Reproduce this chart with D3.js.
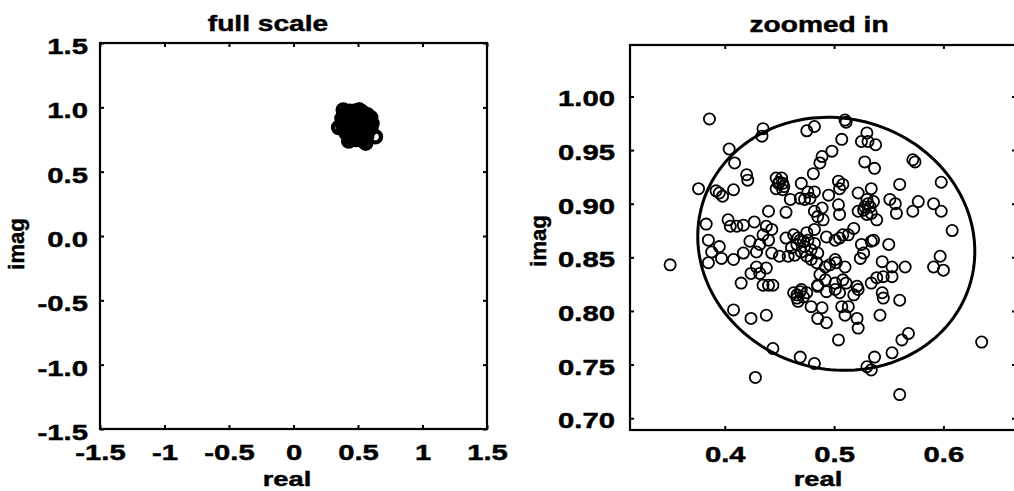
<!DOCTYPE html>
<html>
<head>
<meta charset="utf-8">
<script src="https://cdn.jsdelivr.net/npm/d3@7"></script>
<style>
  body { margin: 0; background: #fff; }
  svg text { font-family: "Liberation Sans", Arial, Helvetica, sans-serif; font-weight: bold; fill: #000; stroke: #000; stroke-width: 0.45px; }
</style>
</head>
<body>
<div id="chart"></div>
<script>
// values
const realPart = [
  0.386,0.350,0.635,0.428,0.560,0.510,0.511,0.435,0.434,0.475,
  0.482,0.507,0.530,0.525,0.531,0.538,0.404,0.498,0.489,0.487,
  0.409,0.528,0.537,0.572,0.574,0.420,0.421,0.447,0.452,0.449,
  0.453,0.447,0.453,0.481,0.598,0.376,0.392,0.395,0.398,0.408,
  0.470,0.476,0.482,0.478,0.504,0.508,0.505,0.460,0.469,0.473,
  0.495,0.522,0.534,0.530,0.536,0.533,0.551,0.556,0.557,0.560,
  0.577,0.572,0.591,0.598,0.456,0.482,0.489,0.485,0.490,0.504,
  0.505,0.522,0.527,0.530,0.534,0.539,0.440,0.383,0.403,0.405,
  0.411,0.417,0.427,0.438,0.443,0.435,0.518,0.513,0.608,0.385,
  0.395,0.388,0.423,0.432,0.440,0.456,0.463,0.467,0.472,0.466,
  0.461,0.476,0.482,0.479,0.485,0.493,0.501,0.505,0.508,0.525,
  0.534,0.536,0.550,0.397,0.408,0.417,0.429,0.443,0.450,0.458,
  0.464,0.470,0.475,0.479,0.484,0.492,0.496,0.501,0.502,0.510,
  0.524,0.527,0.544,0.553,0.565,0.591,0.597,0.600,0.385,0.429,
  0.438,0.432,0.424,0.435,0.440,0.444,0.415,0.487,0.492,0.485,
  0.501,0.508,0.511,0.521,0.534,0.539,0.545,0.553,0.463,0.466,
  0.470,0.467,0.472,0.475,0.485,0.493,0.501,0.505,0.518,0.522,
  0.544,0.545,0.560,0.479,0.489,0.507,0.513,0.510,0.542,0.408,
  0.424,0.438,0.485,0.493,0.521,0.522,0.504,0.562,0.568,0.444,
  0.537,0.553,0.469,0.482,0.530,0.534,
  0.450,0.454,0.466,0.469,0.531,0.528,0.469,0.473,0.475,0.482
]
const imagPart = [
  0.979,0.843,0.771,0.738,0.722,0.978,0.976,0.970,0.963,0.968,
  0.972,0.960,0.966,0.958,0.958,0.955,0.951,0.949,0.944,0.938,
  0.938,0.939,0.933,0.941,0.939,0.927,0.922,0.924,0.924,0.919,
  0.919,0.914,0.913,0.928,0.920,0.914,0.912,0.910,0.907,0.913,
  0.919,0.911,0.911,0.905,0.921,0.918,0.914,0.904,0.905,0.904,
  0.908,0.910,0.914,0.904,0.902,0.897,0.904,0.900,0.891,0.918,
  0.902,0.893,0.900,0.893,0.892,0.893,0.896,0.888,0.885,0.899,
  0.890,0.893,0.894,0.890,0.891,0.885,0.893,0.881,0.885,0.879,
  0.879,0.880,0.883,0.879,0.876,0.871,0.877,0.871,0.875,0.866,
  0.860,0.855,0.865,0.862,0.866,0.868,0.871,0.868,0.865,0.862,
  0.859,0.866,0.863,0.857,0.854,0.869,0.866,0.868,0.871,0.862,
  0.865,0.866,0.862,0.849,0.848,0.854,0.855,0.854,0.851,0.851,
  0.852,0.855,0.851,0.848,0.845,0.841,0.843,0.848,0.845,0.841,
  0.849,0.854,0.846,0.841,0.841,0.841,0.851,0.838,0.845,0.841,
  0.840,0.835,0.835,0.824,0.824,0.824,0.826,0.834,0.829,0.824,
  0.826,0.829,0.826,0.823,0.826,0.831,0.832,0.832,0.817,0.812,
  0.820,0.809,0.813,0.817,0.823,0.818,0.820,0.817,0.815,0.820,
  0.817,0.812,0.810,0.804,0.803,0.804,0.804,0.796,0.796,0.801,
  0.793,0.796,0.793,0.789,0.793,0.784,0.773,0.773,0.779,0.765,
  0.757,0.761,0.757,0.751,0.748,0.745,
  0.920,0.916,0.815,0.818,0.900,0.897,0.866,0.860,0.873,0.876
]

const fullTicks = [-1.5, -1, -0.5, 0, 0.5, 1, 1.5]
const zoomXTicks = [0.4, 0.5, 0.6]
const zoomYTicks = [0.70, 0.75, 0.80, 0.85, 0.90, 0.95, 1.00]

// fitted ellipse: centre, semi-axes, tilt (deg)
const ellipseCenter = [0.502, 0.8626]
const ellipseAxes = [0.128, 0.1166]
const ellipseAngle = -20

const points = realPart.map((re, i) => ({ re: re, im: imagPart[i] }))

const svg = d3.select("#chart")
  .append("svg")
    .attr("width", 1014)
    .attr("height", 491)

const stretch = 1.33

function drawPanel(p) {
  const x = d3.scaleLinear().domain(p.xDomain).range([p.left, p.right])
  const y = d3.scaleLinear().domain(p.yDomain).range([p.bottom, p.top])

  const g = svg.append("g")

  // ticks on all four sides, pointing inward
  const styleAxis = a => {
    a.select(".domain").remove()
    a.attr("font-family", null).attr("font-size", null)
    a.selectAll("line").attr("stroke-width", 2)
    a.selectAll("text").style("font-size", "22px")
  }

  g.append("g")
    .attr("transform", `translate(0,${p.bottom})`)
    .call(d3.axisBottom(x).tickValues(p.xTicks).tickSizeInner(-4).tickSizeOuter(0).tickFormat(p.xFormat))
    .call(styleAxis)
    .selectAll("text")
      .attr("y", p.xLabelY)
      .attr("dy", null)
      .attr("transform", `scale(${stretch},1)`)

  g.append("g")
    .attr("transform", `translate(0,${p.top})`)
    .call(d3.axisTop(x).tickValues(p.xTicks).tickSizeInner(-4).tickSizeOuter(0).tickFormat(""))
    .call(styleAxis)

  g.append("g")
    .attr("transform", `translate(${p.left},0)`)
    .call(d3.axisLeft(y).tickValues(p.yTicks).tickSizeInner(-4).tickSizeOuter(0).tickFormat(p.yFormat))
    .call(styleAxis)
    .selectAll("text")
      .attr("x", -p.yLabelGap / stretch)
      .attr("dy", p.yLabelDy)
      .attr("transform", `scale(${stretch},1)`)

  g.append("g")
    .attr("transform", `translate(${p.right},0)`)
    .call(d3.axisRight(y).tickValues(p.yTicks).tickSizeInner(-4).tickSizeOuter(0).tickFormat(""))
    .call(styleAxis)

  // frame
  g.append("rect")
    .attr("x", p.left)
    .attr("y", p.top)
    .attr("width", p.right - p.left)
    .attr("height", p.bottom - p.top)
    .attr("fill", "none")
    .attr("stroke", "#000")
    .attr("stroke-width", 2.2)

  // data
  g.append("g")
    .selectAll("circle")
    .data(points)
    .join("circle")
      .attr("cx", d => x(d.re))
      .attr("cy", d => y(d.im))
      .attr("r", 5.6)
      .attr("fill", "none")
      .attr("stroke", "#000")
      .attr("stroke-width", p.markerWidth)

  if (p.ellipse) {
    const phi = ellipseAngle * Math.PI / 180
    const ang = d3.range(0, 2 * Math.PI, Math.PI / 90)
    const ell = ang.map(t => [
      ellipseCenter[0] + ellipseAxes[0] * Math.cos(phi) * Math.cos(t) - ellipseAxes[1] * Math.sin(phi) * Math.sin(t),
      ellipseCenter[1] + ellipseAxes[0] * Math.sin(phi) * Math.cos(t) + ellipseAxes[1] * Math.cos(phi) * Math.sin(t)
    ])
    g.append("path")
      .attr("d", d3.line().x(d => x(d[0])).y(d => y(d[1])).curve(d3.curveLinearClosed)(ell))
      .attr("fill", "none")
      .attr("stroke", "#000")
      .attr("stroke-width", 3)
  }

  // titles
  g.append("text")
    .attr("transform", `translate(${p.titleX},${p.titleY}) scale(1.28,1)`)
    .attr("text-anchor", "middle")
    .style("font-size", "22px")
    .text(p.title)

  g.append("text")
    .attr("transform", `translate(${p.xTitleX},486) scale(1.3,1)`)
    .attr("text-anchor", "middle")
    .style("font-size", "21px")
    .text("real")

  g.append("text")
    .attr("transform", `translate(${p.yTitleX},${p.yTitleY}) rotate(-90)`)
    .attr("text-anchor", "middle")
    .style("font-size", "22px")
    .text("imag")
}

drawPanel({
  xDomain: [-1.5, 1.5], yDomain: [-1.5, 1.5],
  left: 100, right: 487, top: 43, bottom: 429,
  xTicks: fullTicks, yTicks: fullTicks,
  xFormat: d => String(d), yFormat: d => d.toFixed(1),
  xLabelY: 31, yLabelGap: 12, yLabelDy: "0.48em",
  markerWidth: 4.4, ellipse: false,
  title: "full scale", titleX: 268, titleY: 31,
  xTitleX: 287, yTitleX: 24, yTitleY: 244
})

drawPanel({
  xDomain: [0.3133, 0.6664], yDomain: [0.689, 1.048],
  left: 630, right: 1016, top: 45, bottom: 430,
  xTicks: zoomXTicks, yTicks: zoomYTicks,
  xFormat: d => d.toFixed(1), yFormat: d => d.toFixed(2),
  xLabelY: 32, yLabelGap: 15, yLabelDy: "0.43em",
  markerWidth: 1.8, ellipse: true,
  title: "zoomed in", titleX: 819, titleY: 32,
  xTitleX: 818, yTitleX: 546, yTitleY: 241
})
</script>
</body>
</html>
